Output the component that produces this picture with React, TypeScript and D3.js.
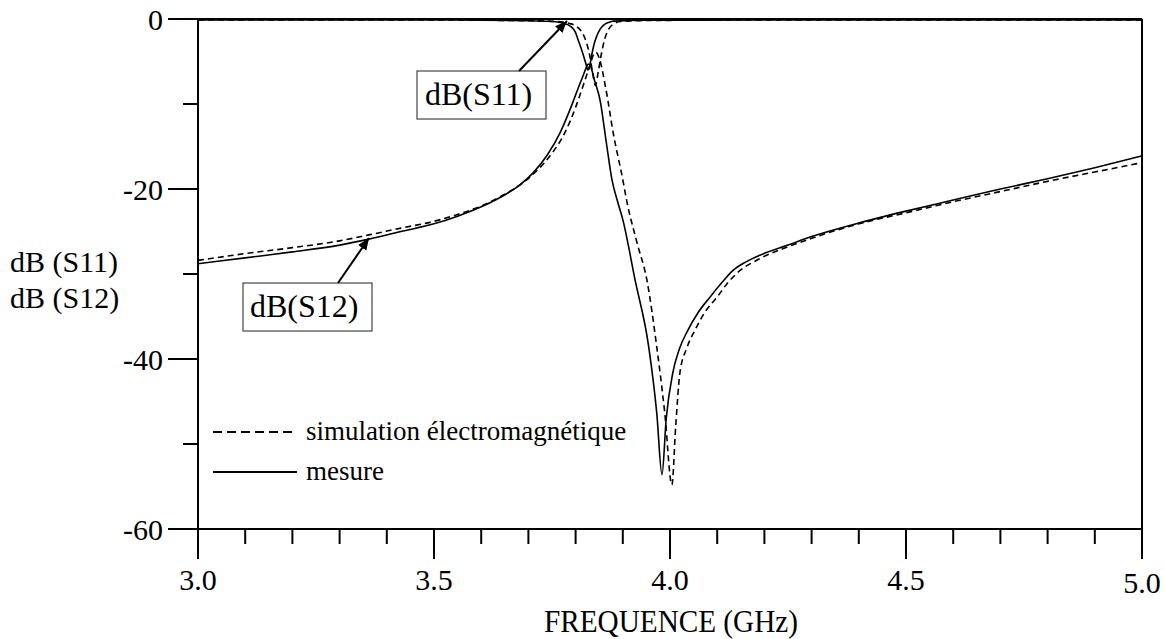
import React from "react";
import * as d3 from "d3";

// ---- data (frequency GHz, dB) ----
const s11MeasF = [3.0, 3.5, 3.7, 3.75, 3.775, 3.79, 3.8, 3.805, 3.815, 3.822, 3.826, 3.83, 3.835, 3.84, 3.845, 3.852, 3.86, 3.87, 3.88, 3.95, 4.2, 5.0];
const s11MeasDb = [-0.1, -0.12, -0.2, -0.3, -0.5, -0.9, -1.6, -2.4, -4.0, -5.3, -6.0, -5.5, -4.0, -2.8, -2.0, -1.2, -0.7, -0.4, -0.25, -0.15, -0.12, -0.12];

const s11SimF = [3.0, 3.5, 3.7, 3.76, 3.785, 3.8, 3.81, 3.82, 3.83, 3.836, 3.842, 3.848, 3.855, 3.862, 3.87, 3.88, 3.895, 3.95, 4.2, 5.0];
const s11SimDb = [-0.1, -0.12, -0.2, -0.3, -0.5, -0.8, -1.3, -2.3, -4.3, -6.3, -7.8, -6.2, -4.0, -2.3, -1.2, -0.6, -0.3, -0.18, -0.12, -0.12];

const s12MeasF = [3.0, 3.1, 3.2, 3.3, 3.362, 3.43, 3.5, 3.55, 3.6, 3.64, 3.68, 3.71, 3.74, 3.767, 3.79, 3.805, 3.815, 3.822, 3.827, 3.832, 3.84, 3.852, 3.865, 3.877, 3.888, 3.9, 3.926, 3.955, 3.972, 3.983, 3.992, 4.006, 4.02, 4.038, 4.06, 4.085, 4.11, 4.133, 4.16, 4.19, 4.25, 4.3, 4.4, 4.5, 4.6, 4.7, 4.8, 4.9, 5.0];
const s12MeasDb = [-28.8, -28.1, -27.4, -26.6, -25.9, -25.0, -24.1, -23.2, -22.1, -21.0, -19.6, -18.1, -16.0, -13.4, -10.4, -8.2, -6.8, -5.8, -5.3, -5.6, -7.2, -9.6, -14.5, -18.9, -21.3, -23.6, -30.7, -38.6, -46.4, -53.6, -47.0, -41.6, -38.8, -36.6, -34.5, -32.7, -31.0, -29.6, -28.6, -27.8, -26.6, -25.6, -24.0, -22.6, -21.3, -20.0, -18.8, -17.5, -16.1];

const s12SimF = [3.0, 3.1, 3.2, 3.3, 3.362, 3.43, 3.5, 3.55, 3.6, 3.64, 3.68, 3.715, 3.75, 3.777, 3.8, 3.815, 3.83, 3.838, 3.843, 3.85, 3.865, 3.88, 3.9, 3.908, 3.93, 3.951, 3.972, 3.989, 4.004, 4.012, 4.021, 4.035, 4.053, 4.075, 4.1, 4.12, 4.142, 4.19, 4.25, 4.3, 4.4, 4.5, 4.6, 4.7, 4.8, 4.9, 5.0];
const s12SimDb = [-28.4, -27.6, -26.9, -26.1, -25.4, -24.6, -23.8, -23.0, -22.0, -20.9, -19.6, -18.0, -15.8, -13.4, -10.4, -8.0, -5.5, -4.2, -3.9, -4.6, -8.5, -13.5, -18.9, -21.3, -26.3, -30.7, -38.6, -46.4, -54.8, -48.0, -41.6, -38.8, -36.6, -34.4, -32.7, -31.2, -29.9, -28.2, -26.8, -25.8, -24.1, -22.8, -21.5, -20.3, -19.1, -18.0, -16.9];

const yMajor = [0, -20, -40, -60];
const yMinor = [-10, -30, -50];
const xMajor = [3.0, 3.5, 4.0, 4.5, 5.0];
const xMinor = [3.1, 3.2, 3.3, 3.4, 3.6, 3.7, 3.8, 3.9, 4.1, 4.2, 4.3, 4.4, 4.6, 4.7, 4.8, 4.9];
const yTitleLines = ["dB (S11)", "dB (S12)"];
const legendItems = [
  { label: "simulation électromagnétique", dashed: true },
  { label: "mesure", dashed: false },
];
const xTitle = "FREQUENCE (GHz)";

const FONT = "'Liberation Serif', 'Times New Roman', Times, serif";

export default function App() {
  const x = d3.scaleLinear().domain([3, 5]).range([198, 1142]);
  const y = d3.scaleLinear().domain([-60, 0]).range([529, 19]);
  const line = d3
    .line<[number, number]>()
    .x((d) => x(d[0]))
    .y((d) => y(d[1]))
    .curve(d3.curveMonotoneX);
  const zip = (f: number[], v: number[]) => f.map((fi, i) => [fi, v[i]] as [number, number]);

  const series = [
    { data: zip(s11MeasF, s11MeasDb), dashed: false },
    { data: zip(s11SimF, s11SimDb), dashed: true },
    { data: zip(s12MeasF, s12MeasDb), dashed: false },
    { data: zip(s12SimF, s12SimDb), dashed: true },
  ];

  const x0 = x(3), x1 = x(5), yTop = y(0), yBot = y(-60);

  return (
    <svg width={1165} height={639} style={{ position: "absolute", left: 0, top: 0, background: "#fff", fontFamily: FONT }}>
      <defs>
        <marker id="arr" viewBox="0 0 12 10" refX="12" refY="5" markerWidth="12" markerHeight="10" markerUnits="userSpaceOnUse" orient="auto">
          <path d="M0,0 L12,5 L0,10 Z" fill="#000" />
        </marker>
      </defs>
      <rect width={1165} height={639} fill="#fff" />
      {/* curves */}
      {series.map((s, i) => (
        <path key={i} d={line(s.data) || ""} fill="none" stroke="#000" strokeWidth={1.6} strokeDasharray={s.dashed ? "6,4" : undefined} />
      ))}
      {/* frame */}
      <line x1={x0} y1={yTop} x2={x0} y2={559} stroke="#000" strokeWidth={2} />
      <line x1={x1} y1={yTop} x2={x1} y2={559} stroke="#000" strokeWidth={2} />
      <line x1={x0} y1={yTop} x2={x1} y2={yTop} stroke="#000" strokeWidth={2} />
      <line x1={x0} y1={yBot} x2={x1} y2={yBot} stroke="#000" strokeWidth={2} />
      {/* y ticks */}
      {yMajor.map((v) => (
        <g key={"ym" + v}>
          <line x1={168} x2={x0} y1={y(v)} y2={y(v)} stroke="#000" strokeWidth={2} />
          <text x={163} y={y(v) + 11} textAnchor="end" fontSize={30}>{String(v)}</text>
        </g>
      ))}
      {yMinor.map((v) => (
        <line key={"yn" + v} x1={183} x2={x0} y1={y(v)} y2={y(v)} stroke="#000" strokeWidth={2} />
      ))}
      {/* x ticks */}
      {xMajor.map((v) => (
        <g key={"xm" + v}>
          <line x1={x(v)} x2={x(v)} y1={yBot} y2={559} stroke="#000" strokeWidth={2} />
          <text x={x(v)} y={v === 5 ? 593 : 590} textAnchor="middle" fontSize={30}>{v.toFixed(1)}</text>
        </g>
      ))}
      {xMinor.map((v) => (
        <line key={"xn" + v} x1={x(v)} x2={x(v)} y1={yBot} y2={544} stroke="#000" strokeWidth={2} />
      ))}
      {/* y title */}
      {yTitleLines.map((t, i) => (
        <text key={t} x={10} y={272 + i * 36} fontSize={30}>{t}</text>
      ))}
      {/* x title */}
      <text x={671} y={632} textAnchor="middle" fontSize={32} textLength={254} lengthAdjust="spacingAndGlyphs">{xTitle}</text>
      {/* legend */}
      {legendItems.map((it, i) => (
        <g key={it.label}>
          <line x1={213} x2={297} y1={432 + i * 40} y2={432 + i * 40} stroke="#000" strokeWidth={2} strokeDasharray={it.dashed ? "9,5" : undefined} />
          <text x={306} y={440 + i * 40} fontSize={27}>{it.label}</text>
        </g>
      ))}
      {/* annotations */}
      <rect x={417} y={71} width={129} height={48} fill="#fff" stroke="#444" strokeWidth={1.2} />
      <text x={425} y={105} fontSize={32}>dB(S11)</text>
      <line x1={519} y1={71} x2={567} y2={21} stroke="#000" strokeWidth={2} markerEnd="url(#arr)" />
      <rect x={243} y={283} width={129} height={48} fill="#fff" stroke="#444" strokeWidth={1.2} />
      <text x={250} y={317} fontSize={32}>dB(S12)</text>
      <line x1={338} y1={283} x2={369} y2={238} stroke="#000" strokeWidth={2} markerEnd="url(#arr)" />
    </svg>
  );
}
